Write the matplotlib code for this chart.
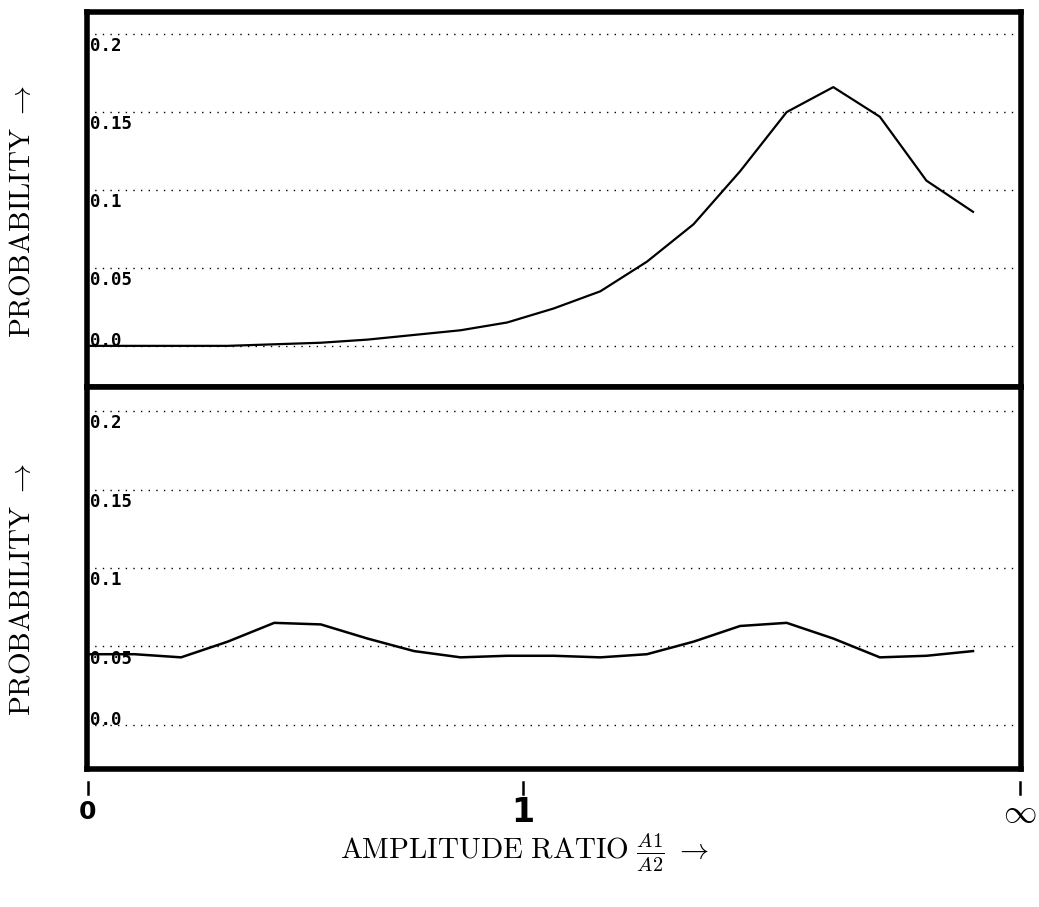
"""
Probability vs amplitude ratio A1/A2, two stacked panels.
"""

import numpy as np
import matplotlib.pyplot as plt

plt.rcParams['mathtext.fontset'] = 'cm'

# sample index along the amplitude-ratio axis (0 ... inf mapped onto 0 ... 20)
ratio_idx = list(range(20))

prob_top = [0.0, 0.0, 0.0, 0.0, 0.001, 0.002, 0.004, 0.007, 0.010, 0.015,
            0.024, 0.035, 0.054, 0.078, 0.112, 0.150, 0.166, 0.147, 0.106, 0.086]
prob_bottom = [0.045, 0.045, 0.043, 0.053, 0.065, 0.064, 0.055, 0.047, 0.043, 0.044,
               0.044, 0.043, 0.045, 0.053, 0.063, 0.065, 0.055, 0.043, 0.044, 0.047]

ytick_vals = [0.0, 0.05, 0.1, 0.15, 0.2]
ytick_text = ['0.0', '0.05', '0.1', '0.15', '0.2']
xtick_vals = [0.0, 9.33, 20.0]
xtick_text = ['0', '1', r'$\infty$']

W, H = 1039, 907
LEFT, RIGHT = 86.5, 1021
TOP, MID, BOT = 12, 387, 769


def setup_panel(ax, ylim):
    ax.set_xlim(-0.03, 20.03)
    ax.set_ylim(*ylim)
    ax.set_xticks([])
    ax.set_yticks([])
    for sp in ax.spines.values():
        sp.set_linewidth(4)
        sp.set_color('black')
    for v, t in zip(ytick_vals, ytick_text):
        ax.axhline(v, color='black', lw=1.0, ls=(0, (1, 4.5)), zorder=1)
        va = 'baseline' if v == 0.0 else 'top'
        off = 0.0 if v == 0.0 else -0.002
        ax.text(0.004, v + off, t, transform=ax.get_yaxis_transform(),
                ha='left', va=va, fontsize=12.5, fontweight='bold',
                family='DejaVu Sans Mono', zorder=3)


fig = plt.figure(figsize=(W / 100, H / 100), dpi=100)
ax1 = fig.add_axes([LEFT / W, 1 - MID / H, (RIGHT - LEFT) / W, (MID - TOP) / H])
ax2 = fig.add_axes([LEFT / W, 1 - BOT / H, (RIGHT - LEFT) / W, (BOT - MID) / H])

setup_panel(ax1, (-0.0264, 0.2142))
setup_panel(ax2, (-0.0282, 0.2154))

ax1.plot(ratio_idx, prob_top, color='black', lw=1.6, zorder=2)
ax2.plot(ratio_idx, prob_bottom, color='black', lw=1.8, zorder=2)

# detached tick marks and labels under the lower panel
tr = ax2.get_xaxis_transform()
for xv, lab in zip(xtick_vals, xtick_text):
    ax2.plot([xv, xv], [-0.035, -0.066], color='black', lw=1.8,
             transform=tr, clip_on=False)
    ax2.text(xv, -0.113, lab, transform=tr, ha='center', va='center',
             fontsize=24 if lab != '0' else 18, fontweight='bold')

ylab = r'$\mathrm{PROBABILITY}\ \rightarrow$'
fig.text(22 / W, 1 - 212 / H, ylab, rotation=90, ha='center', va='center', fontsize=21)
fig.text(22 / W, 1 - 590 / H, ylab, rotation=90, ha='center', va='center', fontsize=21)
fig.text(525 / W, 1 - 853 / H, r'$\mathrm{AMPLITUDE\ RATIO}\ \frac{A1}{A2}\ \rightarrow$',
         ha='center', va='center', fontsize=21)

fig.savefig('out.png', dpi=100)
